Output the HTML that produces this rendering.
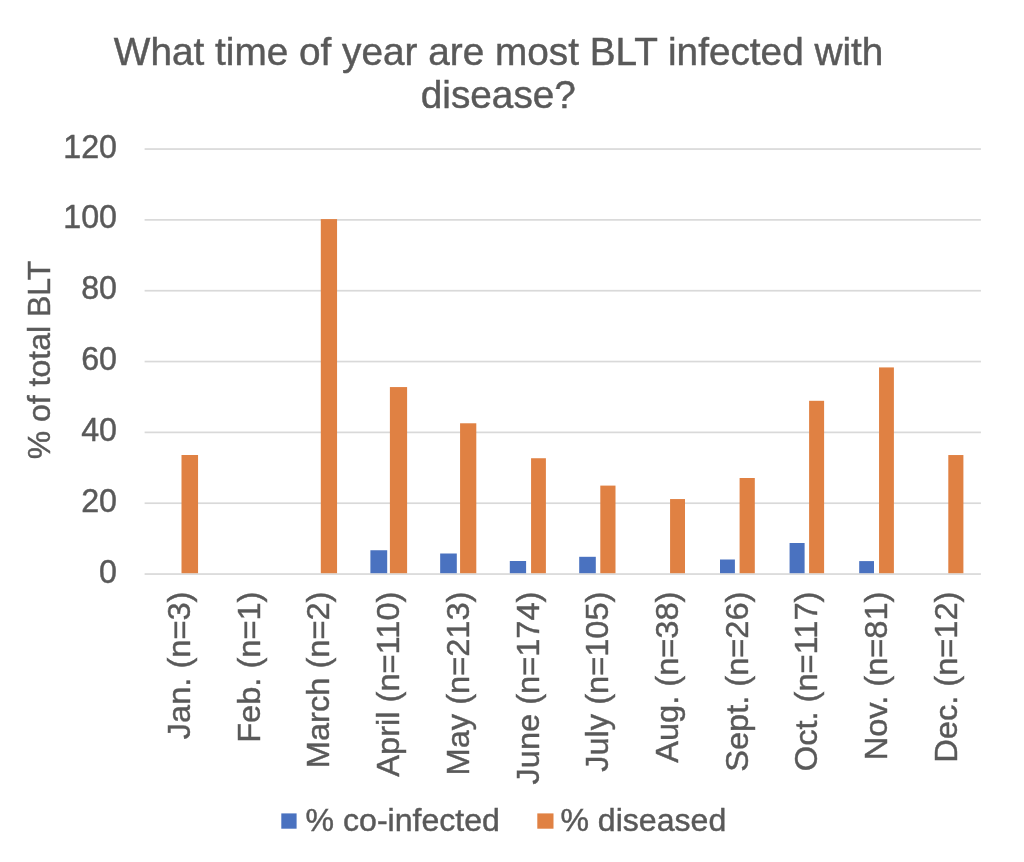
<!DOCTYPE html>
<html><head><meta charset="utf-8"><title>What time of year are most BLT infected with disease?</title><style>
html,body{margin:0;padding:0;background:#fff;width:1024px;height:862px;overflow:hidden}
svg{display:block;will-change:transform}
text{font-family:"Liberation Sans",sans-serif;fill:#595959}
</style></head><body>
<svg width="1024" height="862" viewBox="0 0 1024 862">
<rect width="1024" height="862" fill="#fff"/>
<rect x="144.6" y="148.20" width="836.30" height="1.7" fill="#D9D9D9"/>
<rect x="144.6" y="219.03" width="836.30" height="1.7" fill="#D9D9D9"/>
<rect x="144.6" y="289.87" width="836.30" height="1.7" fill="#D9D9D9"/>
<rect x="144.6" y="360.70" width="836.30" height="1.7" fill="#D9D9D9"/>
<rect x="144.6" y="431.53" width="836.30" height="1.7" fill="#D9D9D9"/>
<rect x="144.6" y="502.37" width="836.30" height="1.7" fill="#D9D9D9"/>
<rect x="144.6" y="573.20" width="836.30" height="1.7" fill="#D9D9D9"/>
<rect x="181.5" y="455.0" width="16.56" height="118.20" fill="#E08143"/>
<rect x="320.8" y="219.1" width="16.26" height="354.10" fill="#E08143"/>
<rect x="389.9" y="387.07" width="17.20" height="186.13" fill="#E08143"/>
<rect x="460.07" y="423.28" width="16.23" height="149.92" fill="#E08143"/>
<rect x="531.07" y="458.24" width="14.83" height="114.96" fill="#E08143"/>
<rect x="600.3" y="485.6" width="15.20" height="87.60" fill="#E08143"/>
<rect x="670.07" y="499.06" width="14.93" height="74.14" fill="#E08143"/>
<rect x="739.6" y="478.0" width="15.20" height="95.20" fill="#E08143"/>
<rect x="809.1" y="400.8" width="15.00" height="172.40" fill="#E08143"/>
<rect x="879.05" y="367.42" width="14.85" height="205.78" fill="#E08143"/>
<rect x="948.3" y="455.04" width="15.10" height="118.16" fill="#E08143"/>
<rect x="370.4" y="550.25" width="16.80" height="22.95" fill="#4A72C0"/>
<rect x="440.16" y="553.5" width="16.64" height="19.70" fill="#4A72C0"/>
<rect x="509.8" y="561.0" width="16.30" height="12.20" fill="#4A72C0"/>
<rect x="579.2" y="556.8" width="16.60" height="16.40" fill="#4A72C0"/>
<rect x="720.0" y="559.5" width="14.90" height="13.70" fill="#4A72C0"/>
<rect x="789.57" y="543.0" width="15.03" height="30.20" fill="#4A72C0"/>
<rect x="859.2" y="561.1" width="14.80" height="12.10" fill="#4A72C0"/>
<text transform="translate(117.0,157.50) scale(1,1.05)" text-anchor="end" font-size="32.2" stroke="#595959" stroke-width="0.45">120</text>
<text transform="translate(117.0,228.33) scale(1,1.05)" text-anchor="end" font-size="32.2" stroke="#595959" stroke-width="0.45">100</text>
<text transform="translate(117.0,299.17) scale(1,1.05)" text-anchor="end" font-size="32.2" stroke="#595959" stroke-width="0.45">80</text>
<text transform="translate(117.0,370.00) scale(1,1.05)" text-anchor="end" font-size="32.2" stroke="#595959" stroke-width="0.45">60</text>
<text transform="translate(117.0,440.83) scale(1,1.05)" text-anchor="end" font-size="32.2" stroke="#595959" stroke-width="0.45">40</text>
<text transform="translate(117.0,511.67) scale(1,1.05)" text-anchor="end" font-size="32.2" stroke="#595959" stroke-width="0.45">20</text>
<text transform="translate(117.0,582.50) scale(1,1.05)" text-anchor="end" font-size="32.2" stroke="#595959" stroke-width="0.45">0</text>
<text transform="translate(50.06,360.0) rotate(-90)" text-anchor="middle" font-size="32" stroke="#595959" stroke-width="0.45">% of total BLT</text>
<text transform="translate(190.05,591.6) rotate(-90) scale(1,0.96)" text-anchor="end" font-size="32.6" stroke="#595959" stroke-width="0.45">Jan. (n=3)</text>
<text transform="translate(259.74,591.6) rotate(-90) scale(1,0.96)" text-anchor="end" font-size="32.6" stroke="#595959" stroke-width="0.45">Feb. (n=1)</text>
<text transform="translate(329.43,591.6) rotate(-90) scale(1,0.96)" text-anchor="end" font-size="32.6" stroke="#595959" stroke-width="0.45">March (n=2)</text>
<text transform="translate(399.12,591.6) rotate(-90) scale(1,0.96)" text-anchor="end" font-size="32.6" stroke="#595959" stroke-width="0.45">April (n=110)</text>
<text transform="translate(468.81,591.6) rotate(-90) scale(1,0.96)" text-anchor="end" font-size="32.6" stroke="#595959" stroke-width="0.45">May (n=213)</text>
<text transform="translate(538.50,591.6) rotate(-90) scale(1,0.96)" text-anchor="end" font-size="32.6" stroke="#595959" stroke-width="0.45">June (n=174)</text>
<text transform="translate(608.20,591.6) rotate(-90) scale(1,0.96)" text-anchor="end" font-size="32.6" stroke="#595959" stroke-width="0.45">July (n=105)</text>
<text transform="translate(677.89,591.6) rotate(-90) scale(1,0.96)" text-anchor="end" font-size="32.6" stroke="#595959" stroke-width="0.45">Aug. (n=38)</text>
<text transform="translate(747.58,591.6) rotate(-90) scale(1,0.96)" text-anchor="end" font-size="32.6" stroke="#595959" stroke-width="0.45">Sept. (n=26)</text>
<text transform="translate(817.27,591.6) rotate(-90) scale(1,0.96)" text-anchor="end" font-size="32.6" stroke="#595959" stroke-width="0.45">Oct. (n=117)</text>
<text transform="translate(886.96,591.6) rotate(-90) scale(1,0.96)" text-anchor="end" font-size="32.6" stroke="#595959" stroke-width="0.45">Nov. (n=81)</text>
<text transform="translate(956.65,591.6) rotate(-90) scale(1,0.96)" text-anchor="end" font-size="32.6" stroke="#595959" stroke-width="0.45">Dec. (n=12)</text>
<text transform="translate(498.6,64.8) scale(1.0,1.0)" text-anchor="middle" font-size="38.76" stroke="#595959" stroke-width="0.45">What time of year are most BLT infected with</text>
<text transform="translate(498.35,108.3) scale(1.0,1.0)" text-anchor="middle" font-size="38.76" stroke="#595959" stroke-width="0.45">disease?</text>
<rect x="281.3" y="813.4" width="15.3" height="15.3" fill="#4A72C0"/>
<text transform="translate(305.6,830.6) scale(1.0,1)" font-size="32.1" stroke="#595959" stroke-width="0.45">% co-infected</text>
<rect x="537.3" y="813.4" width="16.2" height="15.3" fill="#E08143"/>
<text transform="translate(560.4,830.6) scale(1.0,1)" font-size="32.1" stroke="#595959" stroke-width="0.45">% diseased</text>
</svg>
</body></html>
